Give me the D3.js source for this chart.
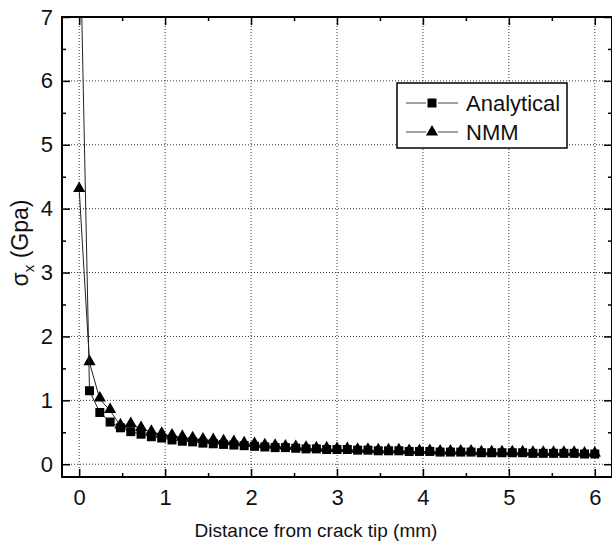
<!DOCTYPE html>
<html lang="en">
<head>
<meta charset="UTF-8">
<title>sigma_x vs distance from crack tip</title>
<style>
  html, body { margin: 0; padding: 0; background: #fff; }
  svg { display: block; font-family: "Liberation Sans", Arial, sans-serif; }
</style>
</head>
<body>
<svg id="chart" width="612" height="545"></svg>
<script src="https://cdn.jsdelivr.net/npm/d3@7"></script>
<script>
// data (x in mm, sigma_x in GPa)
const xAnalytical = [0, 0.12, 0.24, 0.36, 0.48, 0.6, 0.72, 0.84, 0.96, 1.08, 1.2,
  1.32, 1.44, 1.56, 1.68, 1.8, 1.92, 2.04, 2.16, 2.28, 2.4, 2.52, 2.64, 2.76, 2.88, 3.0,
  3.12, 3.24, 3.36, 3.48, 3.6, 3.72, 3.84, 3.96, 4.08, 4.2, 4.32, 4.44, 4.56, 4.68, 4.8,
  4.92, 5.04, 5.16, 5.28, 5.4, 5.52, 5.64, 5.76, 5.88, 6.0];
const yAnalytical = [9.0, 1.15, 0.81, 0.66, 0.57, 0.51, 0.47, 0.43, 0.41, 0.38, 0.36,
  0.35, 0.33, 0.32, 0.31, 0.3, 0.29, 0.28, 0.27, 0.26, 0.26, 0.25, 0.24, 0.24, 0.23, 0.23,
  0.23, 0.22, 0.22, 0.21, 0.21, 0.21, 0.2, 0.2, 0.2, 0.19, 0.19, 0.19, 0.19, 0.18, 0.18,
  0.18, 0.18, 0.18, 0.17, 0.17, 0.17, 0.17, 0.17, 0.16, 0.16];
const xNMM = xAnalytical;
const yNMM = [4.3, 1.59, 1.02, 0.84, 0.6, 0.62, 0.56, 0.5, 0.47, 0.44, 0.42,
  0.4, 0.38, 0.37, 0.35, 0.34, 0.32, 0.31, 0.29, 0.28, 0.27, 0.26, 0.25, 0.24, 0.24, 0.23,
  0.23, 0.22, 0.22, 0.21, 0.21, 0.21, 0.2, 0.2, 0.2, 0.19, 0.19, 0.19, 0.19, 0.18, 0.18,
  0.18, 0.18, 0.18, 0.17, 0.17, 0.17, 0.17, 0.17, 0.16, 0.16];

const xTicks = [0, 1, 2, 3, 4, 5, 6];
const xMinor = [0.5, 1.5, 2.5, 3.5, 4.5, 5.5];
const yTicks = [0, 1, 2, 3, 4, 5, 6, 7];
const yMinor = [0.5, 1.5, 2.5, 3.5, 4.5, 5.5, 6.5];
const seriesNames = ['Analytical', 'NMM'];

const margin = { top: 17, right: 0, bottom: 68, left: 62 };
const width = 612 - margin.left - margin.right;
const height = 545 - margin.top - margin.bottom;

const svg = d3.select('#chart');
const g = svg.append('g').attr('transform', `translate(${margin.left},${margin.top})`);

const x = d3.scaleLinear().domain([-0.2, 6.2]).range([0, width]);
const y = d3.scaleLinear().domain([-0.2, 7]).range([height, 0]);

// dotted grid
g.append('g').selectAll('line').data(xTicks).join('line')
  .attr('x1', d => x(d)).attr('x2', d => x(d))
  .attr('y1', 0).attr('y2', height)
  .attr('stroke', '#333').attr('stroke-width', 1).attr('stroke-dasharray', '1,2');
g.append('g').selectAll('line').data(yTicks.filter(d => d < 7)).join('line')
  .attr('x1', 0).attr('x2', width)
  .attr('y1', d => y(d)).attr('y2', d => y(d))
  .attr('stroke', '#333').attr('stroke-width', 1).attr('stroke-dasharray', '1,2');

// axes, ticks pointing inward
function styleAxis(sel) {
  sel.select('.domain').remove();
  sel.selectAll('line').attr('stroke', '#000').attr('stroke-width', 1.5);
  sel.selectAll('text').attr('font-size', 22).attr('fill', '#111')
    .attr('font-family', '"Liberation Sans", Arial, sans-serif');
}
g.append('g').attr('transform', `translate(0,${height})`)
  .call(d3.axisBottom(x).tickValues(xTicks).tickFormat(d3.format('d')).tickSize(-8).tickPadding(12))
  .call(styleAxis);
g.append('g').attr('transform', `translate(0,${height})`)
  .call(d3.axisBottom(x).tickValues(xMinor).tickFormat('').tickSize(-4))
  .call(styleAxis);
g.append('g')
  .call(d3.axisTop(x).tickValues(xTicks).tickFormat('').tickSize(-8))
  .call(styleAxis);
g.append('g')
  .call(d3.axisTop(x).tickValues(xMinor).tickFormat('').tickSize(-4))
  .call(styleAxis);
g.append('g')
  .call(d3.axisLeft(y).tickValues(yTicks).tickFormat(d3.format('d')).tickSize(-8).tickPadding(9))
  .call(styleAxis);
g.append('g')
  .call(d3.axisLeft(y).tickValues(yMinor).tickFormat('').tickSize(-4))
  .call(styleAxis);
g.append('g').attr('transform', `translate(${width},0)`)
  .call(d3.axisRight(y).tickValues(yTicks).tickFormat('').tickSize(-8))
  .call(styleAxis);
g.append('g').attr('transform', `translate(${width},0)`)
  .call(d3.axisRight(y).tickValues(yMinor).tickFormat('').tickSize(-4))
  .call(styleAxis);

// frame
g.append('rect').attr('width', width).attr('height', height)
  .attr('fill', 'none').attr('stroke', '#000').attr('stroke-width', 2);

// clipped plot content
svg.append('defs').append('clipPath').attr('id', 'clip')
  .append('rect').attr('width', width).attr('height', height);
const plot = g.append('g').attr('clip-path', 'url(#clip)');

const line = d3.line().x(d => x(d[0])).y(d => y(d[1]));
const nmm = xNMM.map((d, i) => [d, yNMM[i]]);
const ana = xAnalytical.map((d, i) => [d, yAnalytical[i]]);

const tri = d3.symbol().type(d3.symbolTriangle).size(64);
const sq = d3.symbol().type(d3.symbolSquare).size(81);

plot.append('path').datum(nmm).attr('d', line)
  .attr('fill', 'none').attr('stroke', '#222').attr('stroke-width', 1);
plot.append('g').selectAll('path').data(nmm).join('path')
  .attr('d', tri).attr('transform', d => `translate(${x(d[0])},${y(d[1]) - 1})`)
  .attr('fill', '#000');

plot.append('path').datum(ana).attr('d', line)
  .attr('fill', 'none').attr('stroke', '#222').attr('stroke-width', 1);
plot.append('g').selectAll('path').data(ana).join('path')
  .attr('d', sq).attr('transform', d => `translate(${x(d[0])},${y(d[1])})`)
  .attr('fill', '#000');

// legend
const lg = svg.append('g').attr('transform', 'translate(397,83)');
lg.append('rect').attr('width', 170).attr('height', 65)
  .attr('fill', '#fff').attr('stroke', '#000').attr('stroke-width', 1.5);
const shapes = [sq, tri];
seriesNames.forEach((name, i) => {
  const row = lg.append('g').attr('transform', `translate(0,${20 + i * 29})`);
  row.append('line').attr('x1', 9).attr('x2', 29).attr('stroke', '#444').attr('stroke-width', 1);
  row.append('line').attr('x1', 41).attr('x2', 61).attr('stroke', '#444').attr('stroke-width', 1);
  row.append('path').attr('d', shapes[i]).attr('transform', 'translate(35,0)').attr('fill', '#000');
  row.append('text').attr('x', 69).attr('y', 8).attr('font-size', 22).attr('fill', '#111')
    .text(name);
});

// axis titles
svg.append('text')
  .attr('x', 316).attr('y', 537)
  .attr('text-anchor', 'middle').attr('font-size', 19).attr('fill', '#111')
  .text('Distance from crack tip (mm)');

const yt = svg.append('text')
  .attr('transform', 'translate(28,243) rotate(-90)')
  .attr('text-anchor', 'middle').attr('font-size', 23).attr('fill', '#111');
yt.append('tspan').text('σ');
yt.append('tspan').attr('font-size', 15).attr('dy', 6).text('x');
yt.append('tspan').attr('dy', -6).text(' (Gpa)');
</script>
</body>
</html>
